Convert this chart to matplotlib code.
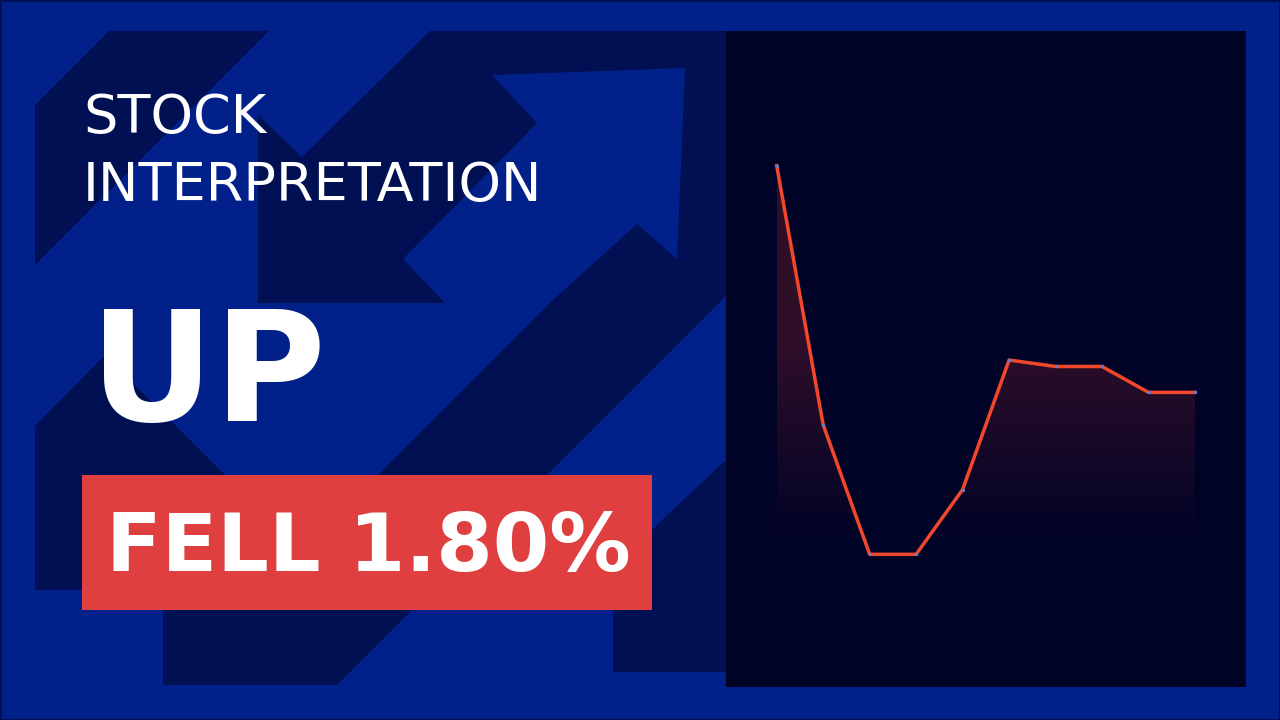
import numpy as np
import matplotlib
matplotlib.use("Agg")
import matplotlib.pyplot as plt
from matplotlib.patches import Polygon, Rectangle

# ---------------- data ----------------
days = list(range(10))
prices = [10.20, 9.80, 9.60, 9.60, 9.70, 9.90, 9.89, 9.89, 9.85, 9.85]
title_lines = ["STOCK", "INTERPRETATION"]
headline = "UP"
badge_text = "FELL 1.80%"

# ---------------- styles ----------------
BLUE = "#01208A"
DARK = "#001052"
PANEL = "#000326"
RED_BOX = "#DF3F3F"
LINE = "#F2472A"
DOT = "#5A7FD8"

W, H = 1280, 720
fig = plt.figure(figsize=(12.8, 7.2), dpi=100)
fig.patch.set_facecolor(BLUE)

bg = fig.add_axes([0, 0, 1, 1])
bg.set_xlim(0, W)
bg.set_ylim(H, 0)
bg.set_axis_off()
bg.set_facecolor(BLUE)

# decorative background shapes (pixel coordinates)
deco_dark = [
    [(109, 31), (269, 31), (35, 265), (35, 105)],
    [(430, 31), (726, 31), (726, 296), (337, 685), (163, 685), (163, 600),
     (258, 600), (258, 115), (302, 157)],
]
deco_blue = [
    [(445, 303), (403, 259), (537, 123), (492, 75), (685, 68), (677, 259),
     (637, 224), (553, 300), (380, 473), (300, 553), (258, 553), (258, 303)],
]
deco_dark2 = [
    [(35, 426), (105, 355), (245, 495), (245, 600), (163, 600), (163, 590), (35, 590)],
    [(613, 672), (613, 570), (663, 519), (727, 459), (727, 672)],
]
for poly in deco_dark:
    bg.add_patch(Polygon(poly, closed=True, facecolor=DARK, edgecolor="none", zorder=1))
for poly in deco_blue:
    bg.add_patch(Polygon(poly, closed=True, facecolor=BLUE, edgecolor="none", zorder=2))
for poly in deco_dark2:
    bg.add_patch(Polygon(poly, closed=True, facecolor=DARK, edgecolor="none", zorder=3))

# chart panel
bg.add_patch(Rectangle((726, 31), 520, 656, facecolor=PANEL, edgecolor="none", zorder=4))

# red badge
bg.add_patch(Rectangle((82, 475), 570, 135, facecolor=RED_BOX, edgecolor="none", zorder=5))

# outer border
bg.add_patch(Rectangle((0.5, 0.5), W - 1, H - 1, facecolor="none", edgecolor=DARK,
                       lw=1.5, zorder=10))

# texts
bg.text(83, 133, title_lines[0], color="white", fontsize=39, va="baseline",
        ha="left", zorder=6)
bg.text(83, 200.6, title_lines[1], color="white", fontsize=39, va="baseline",
        ha="left", zorder=6)
bg.text(90, 421, headline, color="white", fontsize=110, fontweight="bold",
        va="baseline", ha="left", zorder=6)
bg.text(106, 570.7, badge_text, color="white", fontsize=58.5, fontweight="bold",
        va="baseline", ha="left", zorder=6)

# ---------------- line chart ----------------
x_left, x_right = 776.7, 1195.0
y_top, y_bot = 165.7, 554.3
ax = fig.add_axes([x_left / W, (H - y_bot) / H, (x_right - x_left) / W, (y_bot - y_top) / H])
ax.set_axis_off()
ax.patch.set_alpha(0)
ymin, ymax = min(prices), max(prices)
ax.set_xlim(days[0], days[-1])
ax.set_ylim(ymin, ymax)

# gradient fill under the line
n = 256
t = np.linspace(0, 1, n)
alpha = 0.20 * np.clip(t / 0.55, 0, 1) ** 1.1
rgba = np.zeros((n, 1, 4))
rgba[..., 0] = 240 / 255
rgba[..., 1] = 60 / 255
rgba[..., 2] = 50 / 255
rgba[..., 3] = alpha[:, None]
im = ax.imshow(rgba, origin="lower", aspect="auto",
               extent=[days[0], days[-1], ymin, ymax], zorder=1, interpolation="bilinear")
clip_poly = Polygon(list(zip(days, prices)) + [(days[-1], ymin), (days[0], ymin)],
                    closed=True, facecolor="none", edgecolor="none", transform=ax.transData)
ax.add_patch(clip_poly)
im.set_clip_path(clip_poly)

ax.plot(days, prices, color=LINE, lw=2.5, solid_joinstyle="round", clip_on=False, zorder=3)
ax.plot(days, prices, ls="none", marker="o", ms=2.4, color=DOT, mec="none",
        clip_on=False, zorder=4)

fig.savefig("out.png", dpi=100, facecolor=fig.get_facecolor())
